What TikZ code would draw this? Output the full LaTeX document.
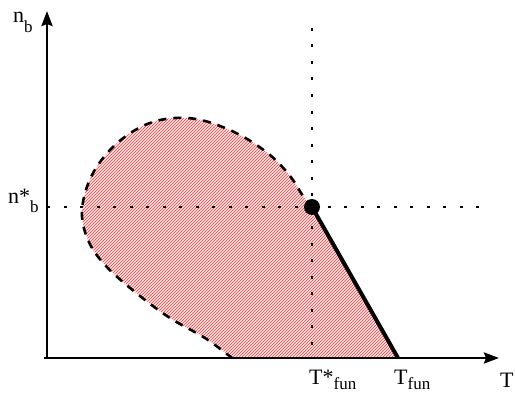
\documentclass[tikz,border=0pt]{standalone}
\usepackage{fontspec}
\setmainfont{Liberation Serif}
\usetikzlibrary{arrows.meta,patterns}
\tikzset{
  axis/.style={line width=2.8pt,-{Stealth[length=15pt,width=11pt,inset=2pt]}},
  guide/.style={line width=1.6pt,dash pattern=on 3pt off 13.5pt},
  border/.style={line width=2.6pt,dash pattern=on 8pt off 7pt},
  front/.style={line width=4pt},
  lbl/.style={font=\fontsize{22}{24}\selectfont,inner sep=0pt,anchor=base west},
}
\newcommand{\lowsub}[1]{\raisebox{-9pt}{\fontsize{17}{19}\selectfont #1}}
\newcommand{\lowsubT}[1]{\raisebox{-5pt}{\fontsize{17}{19}\selectfont #1}}
\begin{document}
\begin{tikzpicture}[x=1pt,y=1pt]
\useasboundingbox (0,0) rectangle (515,392);
\coordinate (O) at (47,34);
\coordinate (Ytop) at (47,381);
\coordinate (Xend) at (499,34);
\coordinate (S) at (312,185);
\coordinate (Tf) at (398,34);
\coordinate (Vtop) at (312,364);
\coordinate (Hend) at (488,185);
\coordinate (Hstart) at (47,185);
\coordinate (Vbot) at (312,34);
% region
\fill[red!8] (S)
  plot[smooth,tension=0.6] coordinates {(312,185) (303,196) (290,216) (270,237) (240,257) (205,271) (175,274) (145,267) (115,247) (92,217) (82,182) (88,152) (105,127) (135,100) (170,74) (205,54) (232,34)}
  -- (Tf) -- cycle;
\fill[pattern=north east lines,pattern color=red!80] (S)
  plot[smooth,tension=0.6] coordinates {(312,185) (303,196) (290,216) (270,237) (240,257) (205,271) (175,274) (145,267) (115,247) (92,217) (82,182) (88,152) (105,127) (135,100) (170,74) (205,54) (232,34)}
  -- (Tf) -- cycle;
% guides
\draw[guide] (Vtop) -- (Vbot);
\draw[guide] (Hstart) -- (Hend);
% dashed boundary
\draw[border] plot[smooth,tension=0.6] coordinates {(312,185) (303,196) (290,216) (270,237) (240,257) (205,271) (175,274) (145,267) (115,247) (92,217) (82,182) (88,152) (105,127) (135,100) (170,74) (205,54) (232,34)};
% axes
\draw[axis] (O) -- (Ytop);
\draw[axis] (44,34) -- (Xend);
% front
\draw[front] (S) -- (Tf);
\fill (S) circle (8);
% labels
\node[lbl] (nb) at (13,369) {n\lowsub{b}};
\node[lbl] (nbs) at (8,189) {n*\lowsub{b}};
\node[lbl] (Ts) at (309,8) {T*\lowsubT{fun}};
\node[lbl] (Tfl) at (394,8) {T\lowsubT{fun}};
\node[lbl] (Tl) at (500,5) {T};
\end{tikzpicture}
\end{document}
